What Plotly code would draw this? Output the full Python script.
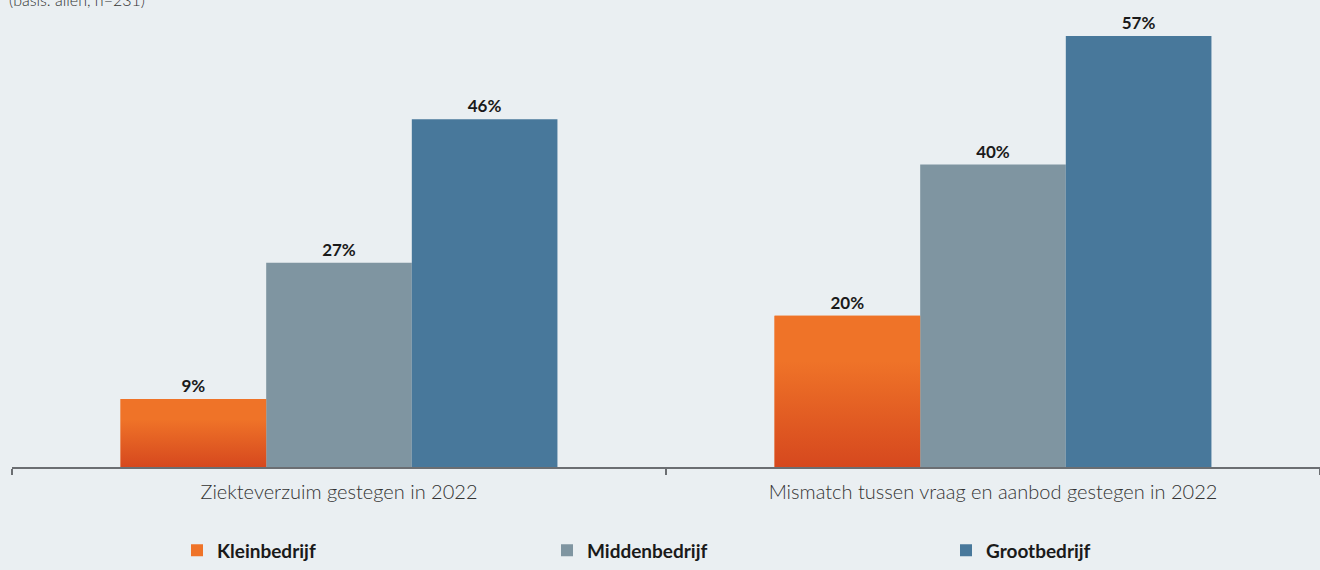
import plotly.graph_objects as go

# Survey results: share of companies per size class
categories = ["Ziekteverzuim gestegen in 2022", "Mismatch tussen vraag en aanbod gestegen in 2022"]
series_names = ["Kleinbedrijf", "Middenbedrijf", "Grootbedrijf"]
kleinbedrijf = [9, 20]
middenbedrijf = [27, 40]
grootbedrijf = [46, 57]
subtitle = "(basis: allen, n=231)"

BG = "#EAEFF2"
ORANGE_TOP = "#EF7328"
ORANGE_BOTTOM = "#D6481E"
GREY = "#7F95A1"
BLUE = "#48789B"
FONT = "Lato"
BARGAP = 0.332

values = [kleinbedrijf, middenbedrijf, grootbedrijf]
colors = [ORANGE_TOP, GREY, BLUE]
legend_ids = ["legend", "legend2", "legend3"]

fig = go.Figure()
for name, vals, col, lg in zip(series_names, values, colors, legend_ids):
    fig.add_trace(go.Bar(
        x=categories, y=vals, name=name, legend=lg,
        marker=dict(color=col, line=dict(width=0)),
        texttemplate="%{y}%", textposition="outside",
        textfont=dict(family=FONT, size=17, color="#1A1A1A", weight="bold"),
        cliponaxis=False,
    ))

# Vertical gradient on the small-company bars, laid over the same bar footprint
group_w = 1 - BARGAP
bar_w = group_w / len(series_names)
for i, v in enumerate(kleinbedrijf):
    x0 = i - group_w / 2
    x1 = x0 + bar_w
    fig.add_trace(go.Scatter(
        x=[x0, x1, x1, x0, x0], y=[0, 0, v, v, 0],
        xaxis="x2", mode="lines", line=dict(width=0),
        fill="toself",
        fillgradient=dict(type="vertical",
                          colorscale=[[0, ORANGE_BOTTOM], [0.7, ORANGE_TOP], [1, ORANGE_TOP]]),
        hoverinfo="skip", showlegend=False,
    ))

W, H = 1320, 570
ml, mr, mt, mb = 12, 0, 0, 100
pw = W - ml - mr
ph = H - mt - mb


def px_x(px):
    return (px - ml) / pw


def px_y(py):
    return (H - mb - py) / ph


legend_common = dict(
    orientation="h", yanchor="middle", xanchor="left",
    font=dict(family=FONT, size=19, color="#1A1A1A", weight="bold"),
    bgcolor="rgba(0,0,0,0)", borderwidth=0,
)

fig.update_layout(
    width=W, height=H,
    margin=dict(l=ml, r=mr, t=mt, b=mb),
    paper_bgcolor=BG, plot_bgcolor=BG,
    barmode="group", bargap=BARGAP, bargroupgap=0,
    font=dict(family=FONT, color="#333333"),
    xaxis=dict(
        type="category", range=[-0.5, 1.5],
        showline=True, linecolor="#6B6E72", linewidth=2,
        ticks="outside", tickson="boundaries", ticklen=6, tickwidth=2, tickcolor="#6B6E72",
        tickfont=dict(family=FONT, size=20, color="#333333", weight=300),
        ticklabelstandoff=6,
        showgrid=False, zeroline=False, fixedrange=True,
    ),
    xaxis2=dict(overlaying="x", range=[-0.5, 1.5], visible=False, fixedrange=True),
    yaxis=dict(range=[0, ph / 7.61], visible=False, showgrid=False, zeroline=False, fixedrange=True),
    legend=dict(x=px_x(177), y=px_y(554), **legend_common),
    legend2=dict(x=px_x(547), y=px_y(554), **legend_common),
    legend3=dict(x=px_x(946), y=px_y(554), **legend_common),
    annotations=[dict(
        text=subtitle, xref="paper", yref="paper",
        x=px_x(7), y=px_y(-1), xanchor="left", yanchor="middle",
        showarrow=False, font=dict(family=FONT, size=16, color="#333333", weight=300),
    )],
)

fig.write_html("out.html")
